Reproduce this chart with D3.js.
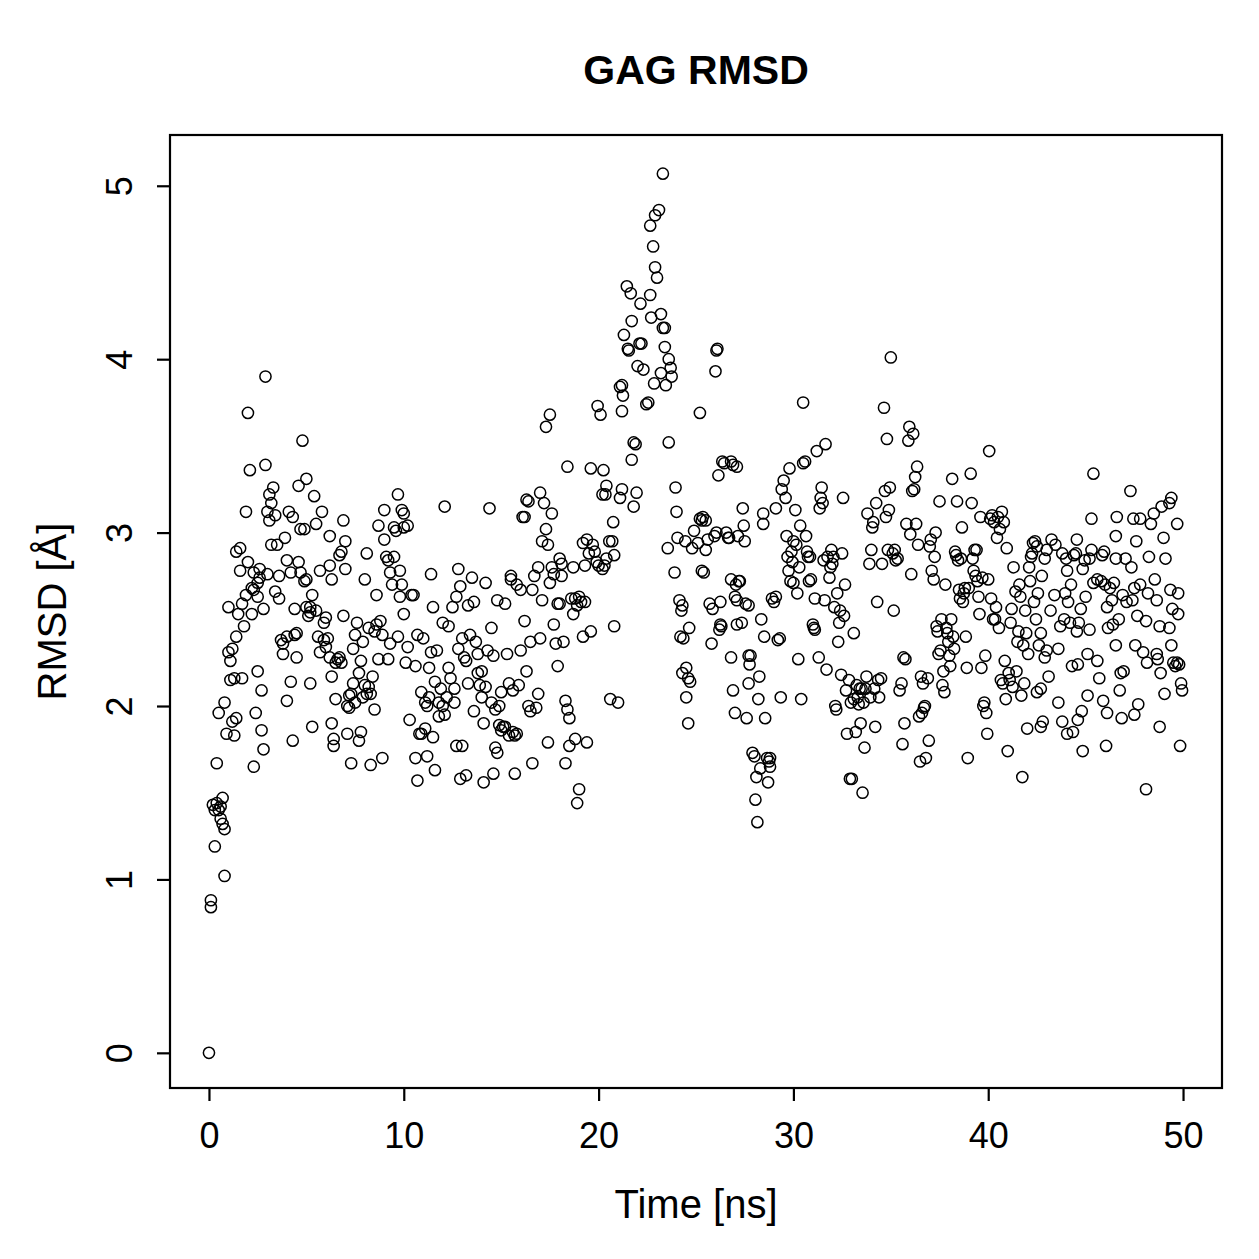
<!DOCTYPE html>
<html>
<head>
<meta charset="utf-8">
<script src="https://cdn.jsdelivr.net/npm/d3@7"></script>
<style>
body { margin: 0; background: white; }
text { font-family: "Liberation Sans", Arial, Helvetica, sans-serif; fill: black; }
</style>
</head>
<body>
<div id="chart"></div>
<script>
var title = "GAG RMSD";
var xLabel = "Time [ns]";
var yLabel = "RMSD [Å]";
var xTicks = [0, 10, 20, 30, 40, 50];
var yTicks = [0, 1, 2, 3, 4, 5];

// [time ns, rmsd Å]
var rmsd0to10 = [
 [0.0,0.0],[0.1,0.88],[0.1,0.84],[0.2,1.43],[0.3,1.40],[0.3,1.19],[0.4,1.67],[0.4,1.44],[0.5,1.96],[0.5,1.40],
 [0.6,1.35],[0.6,1.42],[0.7,1.32],[0.7,1.47],[0.8,1.29],[0.8,1.02],[0.8,2.02],[0.9,1.84],[1.0,2.57],[1.0,2.31],
 [1.1,2.26],[1.1,2.15],[1.2,1.91],[1.2,2.33],[1.3,1.83],[1.3,2.16],[1.4,2.40],[1.4,1.93],[1.4,2.89],[1.5,2.53],
 [1.6,2.78],[1.6,2.91],[1.7,2.59],[1.7,2.16],[1.8,2.46],[1.9,2.64],[1.9,3.12],[2.0,2.83],[2.0,3.69],[2.1,3.36],
 [2.2,2.53],[2.2,2.68],[2.3,2.77],[2.3,2.67],[2.3,1.65],[2.4,1.96],
 [2.5,2.71],[2.5,2.63],[2.5,2.20],[2.6,2.79],[2.6,2.74],[2.7,1.86],[2.7,2.09],[2.8,1.75],[2.8,2.56],[2.9,3.39],
 [2.9,3.90],[3.0,3.12],[3.0,2.76],[3.1,3.22],[3.1,3.07],[3.2,2.93],[3.2,3.17],[3.3,3.26],[3.4,3.10],[3.4,2.66],
 [3.5,2.93],[3.6,2.62],[3.6,2.75],[3.7,2.38],[3.8,2.36],[3.8,2.30],[3.9,2.97],[4.0,2.03],[4.0,2.40],[4.0,2.84],
 [4.1,3.12],[4.2,2.14],[4.2,2.77],[4.3,3.09],[4.3,1.80],[4.4,2.41],[4.4,2.56],[4.5,2.28],
 [4.5,2.42],[4.6,3.27],[4.6,2.83],[4.7,3.02],[4.7,2.77],[4.8,3.53],[4.9,3.02],[4.9,2.72],[5.0,3.31],[5.0,2.57],
 [5.0,2.73],[5.1,2.52],[5.2,2.54],[5.2,2.57],[5.2,2.13],[5.3,1.88],[5.3,2.64],[5.4,3.21],[5.5,2.55],[5.5,3.05],
 [5.6,2.40],[5.7,2.31],[5.7,2.78],[5.8,3.12],[5.9,2.38],[5.9,2.48],[6.0,2.34],[6.0,2.51],[6.1,2.39],[6.2,2.28],
 [6.2,2.81],[6.2,2.98],
 [6.3,1.90],[6.3,2.17],[6.3,2.73],[6.4,1.81],[6.4,1.77],[6.5,2.25],[6.5,2.04],[6.6,2.27],[6.7,2.87],[6.7,2.28],
 [6.8,2.25],[6.8,2.89],[6.9,3.07],[6.9,2.52],[7.0,2.79],[7.0,2.95],[7.1,2.00],[7.1,1.84],[7.2,1.99],[7.2,2.06],
 [7.3,2.07],[7.3,1.67],[7.4,2.13],[7.4,2.33],[7.5,2.41],[7.5,2.02],[7.6,2.48],[7.7,1.80],[7.7,2.19],[7.8,2.26],
 [7.8,1.85],[7.9,2.37],[7.9,2.05],[8.0,2.12],[8.0,2.73],
 [8.1,2.07],[8.1,2.88],[8.2,2.45],[8.2,2.11],[8.3,2.07],[8.3,1.66],[8.4,2.17],[8.5,1.98],[8.5,2.43],[8.6,2.64],
 [8.6,2.47],[8.7,3.04],[8.7,2.27],[8.8,2.49],[8.9,1.70],[8.9,2.41],[9.0,2.96],[9.0,3.13],[9.1,2.86],[9.2,2.27],
 [9.2,2.84],[9.3,2.77],[9.3,2.36],[9.4,2.70],[9.5,2.86],[9.5,3.03],[9.6,3.01],[9.7,3.22],[9.7,2.40],[9.8,2.63],
 [9.8,2.78],[9.9,3.13],[9.9,2.70],[10.0,3.11],[10.0,2.53],[10.0,3.03]
];

var rmsd10to20 = [
 [10.1,2.25],[10.2,3.04],[10.2,2.34],[10.3,1.92],[10.4,2.64],[10.5,2.64],[10.6,1.70],[10.6,2.23],[10.7,2.41],[10.7,1.57],
 [10.8,1.84],[10.9,2.08],[10.9,1.84],[11.0,2.39],[11.1,2.02],[11.1,1.87],[11.2,1.71],[11.2,2.00],[11.3,2.22],[11.3,2.05],
 [11.4,2.31],[11.4,2.76],[11.5,1.82],[11.5,2.57],[11.6,1.63],[11.6,2.14],[11.7,2.32],[11.8,2.02],[11.8,1.94],[11.9,2.10],
 [12.0,2.00],[12.0,2.48],
 [12.1,1.95],[12.1,3.15],[12.2,2.05],[12.3,2.46],[12.3,2.22],[12.4,2.16],[12.5,2.57],[12.6,2.10],[12.6,2.02],[12.7,1.77],
 [12.7,2.63],[12.8,2.79],[12.8,2.33],[12.9,2.69],[12.9,1.58],[13.0,2.39],[13.0,1.77],[13.1,2.28],[13.2,2.26],[13.2,1.60],
 [13.3,2.58],[13.3,2.13],[13.4,2.41],[13.5,2.74],[13.6,2.60],[13.6,1.97],[13.7,2.37],[13.8,2.30],[13.8,2.19],[13.9,2.12],
 [14.0,2.20],[14.0,2.05],
 [14.1,1.56],[14.1,1.90],[14.2,2.71],[14.2,2.11],[14.3,2.32],[14.4,3.14],[14.5,2.45],[14.5,2.02],[14.6,1.61],[14.6,2.29],
 [14.7,1.76],[14.7,1.98],[14.8,2.61],[14.8,1.73],[14.9,1.89],[14.9,2.00],[15.0,2.08],[15.0,1.86],[15.1,1.88],[15.2,2.59],
 [15.2,1.88],[15.3,2.30],[15.4,1.83],[15.4,2.13],[15.5,2.73],[15.5,2.75],[15.6,1.85],[15.6,2.09],[15.7,1.61],[15.7,1.83],
 [15.8,2.70],[15.8,1.84],[15.9,2.12],[16.0,2.67],
 [16.0,2.32],[16.1,3.09],[16.2,3.09],[16.2,2.49],[16.3,3.19],[16.3,2.20],[16.4,3.18],[16.4,2.00],[16.5,1.97],[16.5,2.37],
 [16.6,2.67],[16.6,1.67],[16.7,2.75],[16.8,1.99],[16.9,2.07],[16.9,2.80],[17.0,2.39],[17.0,3.23],[17.1,2.61],[17.1,2.95],
 [17.2,3.17],[17.3,3.02],[17.3,3.61],[17.4,2.93],[17.4,1.79],[17.5,3.68],[17.5,2.71],[17.6,3.11],[17.6,2.80],[17.7,2.76],
 [17.7,2.47],[17.8,2.36],[17.9,2.59],[17.9,2.23],[18.0,2.59],[18.0,2.85],
 [18.1,2.82],[18.1,2.75],[18.2,2.37],[18.3,1.67],[18.3,2.03],[18.4,1.98],[18.4,3.38],[18.5,1.77],[18.5,1.93],[18.6,2.62],
 [18.7,2.80],[18.7,2.53],[18.8,2.62],[18.8,1.81],[18.9,1.44],[18.9,2.58],[19.0,1.52],[19.0,2.63],[19.1,2.60],[19.2,2.40],
 [19.2,2.94],[19.3,2.60],[19.3,2.81],[19.4,1.79],[19.4,2.96],[19.5,2.88],[19.6,3.37],[19.6,2.43],[19.7,2.93],[19.8,2.89],
 [19.9,2.83],[19.95,3.73],[20.0,2.81]
];

var rmsd20to30 = [
 [20.1,3.68],[20.2,3.22],[20.25,3.36],[20.3,2.81],[20.2,2.79],[20.35,3.22],[20.4,3.27],[20.4,2.85],[20.55,2.95],[20.6,2.04],
 [20.7,2.95],[20.75,3.06],[20.8,2.87],[20.8,2.46],[21.0,2.02],[21.1,3.20],[21.1,3.84],[21.2,3.85],[21.2,3.70],[21.2,3.25],
 [21.25,3.79],[21.3,4.14],[21.45,4.42],[21.5,4.06],[21.55,4.05],[21.65,4.38],[21.7,4.22],[21.7,3.42],[21.8,3.52],[21.8,3.15],
 [21.9,3.51],[21.95,3.23],[22.0,3.96],[22.1,4.09],[22.15,4.32],[22.2,4.09],[22.3,3.94],[22.45,3.74],[22.55,3.75],[22.65,4.37],
 [22.65,4.77],[22.7,4.24],[22.8,4.65],[22.85,3.86],[22.9,4.83],[22.9,4.53],[23.0,4.47],[23.1,4.86],[23.2,4.26],[23.2,3.92],
 [23.3,5.07],[23.3,4.18],[23.4,4.18],[23.4,4.07],[23.45,3.85],[23.55,2.91],[23.6,4.00],[23.6,3.52],[23.7,3.95],[23.75,3.90],
 [23.9,2.77],[23.95,3.26],[24.0,3.12],[24.05,2.97],[24.15,2.61],[24.2,2.40],[24.25,2.55],[24.3,2.58],[24.3,2.19],[24.35,2.39],
 [24.45,2.95],[24.5,2.22],[24.5,2.05],[24.6,1.90],[24.65,2.45],[24.6,2.16],[24.7,2.14],[24.8,2.91],
 [24.9,3.01],[25.1,2.94],[25.2,3.69],[25.2,3.08],[25.3,3.07],[25.35,3.09],[25.5,3.07],[25.3,2.78],[25.4,2.77],[25.5,2.90],
 [25.6,2.96],[25.7,2.59],[25.8,2.36],[25.85,2.56],[25.95,2.98],[26.0,3.93],[26.05,4.05],[26.1,4.06],[26.05,3.00],[26.15,3.33],
 [26.2,2.44],[26.25,2.47],[26.3,2.46],[26.25,2.60],[26.35,3.41],[26.45,3.40],[26.55,3.00],[26.65,2.97],[26.7,2.97],[26.8,2.73],
 [26.8,3.41],[26.9,3.39],[27.0,2.63],[27.05,2.70],[27.1,2.61],[27.1,3.38],[27.15,2.98],[27.2,2.72],[27.25,2.72],
 [26.8,2.28],[26.9,2.09],[27.0,1.96],[27.1,2.47],[27.35,2.48],[27.4,3.14],[27.45,3.04],[27.5,2.95],[27.55,2.59],[27.7,2.58],
 [27.7,2.29],[27.8,2.29],[27.75,2.24],[27.6,1.93],[27.7,2.13],[27.9,1.73],[28.0,1.71],[28.05,1.46],[28.1,1.59],[28.15,1.33],
 [28.2,2.04],[28.25,2.17],[28.3,1.64],[28.35,2.50],[28.45,3.05],[28.45,3.11],[28.5,2.40],[28.55,1.93],[28.65,1.70],[28.7,1.56],
 [28.75,1.68],[28.8,1.65],[28.8,1.70],[28.9,2.62],[29.0,2.60],[29.1,2.63],[29.1,3.14],[29.2,2.38],[29.3,2.39],[29.35,2.05],
 [29.4,3.25],[29.5,3.30],[29.6,3.20],[29.65,2.98],[29.7,2.86],[29.75,2.78],[29.8,3.37],[29.85,2.72],[29.9,2.89],[29.95,2.83],
 [30.0,2.95],[30.0,2.71]
];

var rmsd30to40 = [
 [30.1,3.13],[30.15,2.93],[30.2,2.65],[30.25,2.27],[30.3,2.80],[30.35,3.04],[30.4,2.04],[30.5,3.75],[30.5,3.40],[30.6,3.41],
 [30.65,2.98],[30.7,2.89],[30.75,2.86],[30.8,2.72],[30.85,2.86],[30.9,2.73],[31.0,2.47],[31.05,2.45],[31.1,2.62],[31.1,2.44],
 [31.2,3.47],[31.3,2.28],[31.35,3.14],[31.4,3.20],[31.45,3.26],[31.5,3.17],[31.55,2.84],[31.6,2.61],[31.65,3.51],[31.7,2.21],
 [31.75,2.86],[31.85,2.74],[31.9,2.80],[31.95,2.90],[32.0,2.82],[32.05,2.86],[32.1,2.57],[32.15,2.00],[32.2,1.98],[32.25,2.65],
 [32.3,2.37],[32.35,2.48],[32.4,2.55],[32.45,2.18],[32.5,2.88],[32.55,3.20],[32.6,2.52],[32.65,2.70],[32.7,2.09],[32.75,1.84],
 [32.85,2.15],[32.9,1.58],[32.95,2.02],[33.0,1.58],[33.1,2.42],[33.1,2.04],[33.2,1.85],[33.25,2.12],[33.3,2.05],[33.35,2.01],
 [33.4,2.10],[33.45,1.90],[33.5,2.10],[33.55,1.50],[33.6,2.02],[33.65,1.76],[33.7,2.10],[33.75,2.17],[33.8,3.11],[33.9,2.82],
 [33.95,2.05],[34.0,2.90],[34.05,3.03],[34.1,3.06],[34.15,2.10],[34.2,1.88],[34.25,3.17],[34.3,2.60],[34.35,2.15],[34.4,2.05],
 [34.5,2.16],[34.55,2.82],[34.65,3.72],[34.7,3.24],[34.75,3.09],[34.8,3.54],[34.85,2.90],[34.9,3.13],[34.95,3.26],[35.0,4.01],
 [35.1,2.88],[35.15,2.55],[35.2,2.90],[35.25,2.84],[35.35,2.85],[35.45,2.09],[35.55,2.13],[35.6,1.78],[35.65,2.28],[35.7,1.90],
 [35.75,2.27],[35.8,3.05],[35.9,3.53],[35.95,3.61],[36.0,2.99],[36.05,2.76],[36.1,3.24],[36.15,3.57],[36.2,3.25],[36.25,3.32],
 [36.3,3.05],[36.35,3.38],[36.4,2.93],[36.45,1.94],[36.5,1.68],[36.55,2.17],[36.6,1.96],[36.65,2.13],[36.7,1.99],[36.75,2.00],
 [36.8,1.70],[36.9,2.16],[36.95,1.80],[37.0,2.92],[37.05,2.96],[37.1,2.78],[37.2,2.73],[37.25,2.86],[37.3,3.00],[37.35,2.46],
 [37.4,2.43],[37.45,2.30],[37.5,3.18],[37.55,2.32],[37.6,2.50],[37.65,2.12],[37.7,2.20],[37.75,2.08],[37.8,2.70],[37.85,2.45],
 [37.9,2.42],[37.95,2.37],[38.0,2.29],[38.05,2.23],[38.1,2.50],[38.15,3.31],[38.2,2.40],[38.25,2.33],[38.3,2.89],[38.35,2.87],
 [38.4,3.18],[38.45,2.84],[38.5,2.67],[38.55,2.62],[38.6,2.85],[38.65,3.03],[38.7,2.60],[38.75,2.65],[38.8,2.68],[38.85,2.40],
 [38.9,2.22],[38.95,1.70],[39.0,2.68],[39.1,3.34],[39.15,3.17],[39.2,2.85],[39.25,2.78],[39.3,2.90],[39.35,2.75],[39.4,2.90],
 [39.45,2.72],[39.5,2.63],[39.55,2.53],[39.6,3.09],[39.65,2.22],[39.7,2.74],[39.75,2.00],[39.8,2.02],[39.85,2.29],[39.9,1.96],
 [39.95,1.84],[40.0,2.73]
];

var rmsd40to50 = [
 [40.05,3.47],[40.1,3.08],[40.15,2.62],[40.2,3.10],[40.25,2.50],[40.3,3.06],[40.35,2.50],[40.4,2.57],[40.45,2.97],[40.5,3.09],
 [40.55,2.45],[40.6,3.02],[40.65,2.15],[40.7,3.12],[40.75,2.13],[40.8,3.06],[40.85,2.26],[40.9,2.04],[40.95,2.91],[41.0,1.74],
 [41.05,2.19],[41.1,2.15],[41.15,2.48],[41.2,2.56],[41.25,2.11],[41.3,2.80],[41.4,2.66],[41.45,2.20],[41.5,2.37],[41.55,2.43],
 [41.6,2.70],[41.65,2.63],[41.7,2.06],[41.75,1.59],[41.8,2.35],[41.85,2.13],[41.9,2.55],[41.95,2.42],[42.0,1.87],[42.05,2.30],
 [42.1,2.80],[42.15,2.72],[42.2,2.86],[42.25,2.88],[42.3,2.94],[42.35,2.60],[42.4,2.95],[42.45,2.50],[42.5,2.08],[42.5,2.92],
 [42.55,2.65],[42.6,2.35],[42.7,2.42],[42.7,2.10],[42.7,1.88],[42.75,2.75],[42.8,1.91],[42.9,2.28],[42.9,2.85],[43.0,2.32],
 [43.0,2.90],[43.1,2.17],[43.2,2.55],[43.25,2.96],[43.4,2.64],[43.45,2.93],[43.6,2.33],[43.6,2.02],[43.7,2.46],[43.8,1.91],
 [43.8,2.88],[43.9,2.50],[43.95,2.65],[44.0,2.85],[44.05,1.84],[44.05,2.78],[44.1,2.60],[44.2,2.48],[44.25,2.70],[44.3,2.23],
 [44.35,1.85],[44.4,2.87],[44.5,2.88],[44.55,2.96],[44.55,2.43],[44.6,2.24],[44.6,1.92],[44.65,2.48],[44.75,2.56],[44.8,1.97],
 [44.85,2.79],[44.85,1.74],[44.95,2.84],[45.0,2.63],[45.1,2.30],[45.1,2.06],[45.2,2.44],[45.2,2.85],[45.3,2.90],[45.3,3.08],
 [45.4,3.34],[45.4,2.71],[45.6,2.26],[45.6,2.73],[45.7,2.16],[45.8,2.72],[45.85,2.87],[45.9,2.03],[45.95,2.89],[46.0,2.70],
 [46.05,1.77],[46.1,1.96],[46.1,2.57],[46.15,2.45],[46.25,2.68],[46.35,2.61],[46.4,2.47],[46.45,2.71],[46.55,2.85],[46.55,2.98],
 [46.55,2.35],[46.6,3.09],[46.7,2.50],[46.75,2.09],[46.8,2.19],[46.85,1.93],[46.9,2.64],[46.95,2.20],[47.05,2.85],[47.1,2.60],
 [47.3,3.24],[47.35,2.80],[47.4,2.61],[47.45,3.08],[47.5,2.68],[47.5,1.95],[47.55,2.35],[47.6,2.95],[47.65,2.52],[47.7,2.01],
 [47.8,3.08],[47.8,2.70],[47.95,2.31],[48.1,1.52],[48.1,2.49],[48.15,2.25],[48.2,2.65],[48.25,2.86],[48.35,3.05],[48.5,3.11],
 [48.55,2.73],[48.65,2.61],[48.65,2.30],[48.7,2.27],[48.8,2.46],[48.8,1.88],[48.85,2.19],[48.9,3.15],[49.0,2.97],[49.05,2.07],
 [49.1,2.85],[49.3,3.17],[49.3,2.45],[49.35,2.67],[49.4,3.20],[49.4,2.35],[49.45,2.56],[49.5,2.25],[49.6,2.23],[49.7,2.25],
 [49.7,3.05],[49.75,2.65],[49.75,2.53],[49.8,2.24],[49.85,1.77],[49.9,2.13],[49.95,2.09]
];

var points = rmsd0to10.concat(rmsd10to20, rmsd20to30, rmsd30to40, rmsd40to50);

var W = 1259, H = 1259;
var box = {left: 170, right: 1222, top: 135, bottom: 1088};

var svg = d3.select("#chart").append("svg").attr("width", W).attr("height", H);

var x = d3.scaleLinear().domain([-2, 52]).range([box.left, box.right]);
var y = d3.scaleLinear().domain([-0.2028, 5.2928]).range([box.bottom, box.top]);

svg.append("g").selectAll("circle")
  .data(points)
  .enter().append("circle")
  .attr("cx", function(d){ return x(d[0]); })
  .attr("cy", function(d){ return y(d[1]); })
  .attr("r", 5.6)
  .attr("fill", "none")
  .attr("stroke", "black")
  .attr("stroke-width", 1.5);

svg.append("rect")
  .attr("x", box.left).attr("y", box.top)
  .attr("width", box.right - box.left).attr("height", box.bottom - box.top)
  .attr("fill", "none").attr("stroke", "black").attr("stroke-width", 2.2);

var xAxis = svg.append("g")
  .attr("transform", "translate(0," + box.bottom + ")")
  .call(d3.axisBottom(x).tickValues(xTicks).tickFormat(d3.format("d")).tickSize(13).tickPadding(21));
xAxis.select(".domain").remove();
xAxis.selectAll("line").attr("stroke-width", 2.2);
xAxis.selectAll("text").style("font-size", "36px").style("font-family", "Liberation Sans, Arial, sans-serif");

var yAxis = svg.append("g")
  .attr("transform", "translate(" + box.left + ",0)")
  .call(d3.axisLeft(y).tickValues(yTicks).tickFormat(d3.format("d")).tickSize(13));
yAxis.select(".domain").remove();
yAxis.selectAll("line").attr("stroke-width", 2.2);
yAxis.selectAll("text")
  .attr("x", null)
  .attr("dy", "0")
  .attr("text-anchor", "middle")
  .attr("transform", "translate(-38,0) rotate(-90)")
  .style("font-size", "36px").style("font-family", "Liberation Sans, Arial, sans-serif");

svg.append("text")
  .attr("x", (box.left + box.right) / 2).attr("y", 84)
  .attr("text-anchor", "middle")
  .style("font-size", "41px").style("font-weight", "bold")
  .text(title);

svg.append("text")
  .attr("x", (box.left + box.right) / 2).attr("y", 1218)
  .attr("text-anchor", "middle")
  .style("font-size", "40px")
  .text(xLabel);

svg.append("text")
  .attr("transform", "translate(66," + ((box.top + box.bottom) / 2) + ") rotate(-90)")
  .attr("text-anchor", "middle")
  .style("font-size", "40px")
  .text(yLabel);
</script>
</body>
</html>
